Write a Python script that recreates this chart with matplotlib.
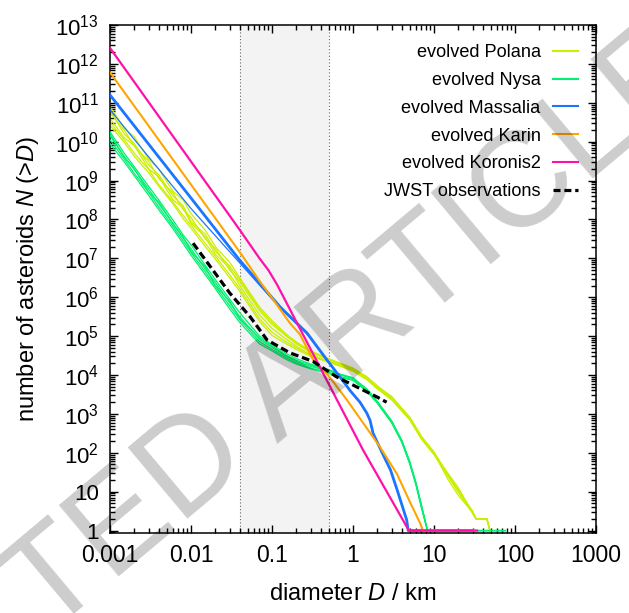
import numpy as np
import matplotlib.pyplot as plt
from matplotlib.lines import Line2D
from matplotlib.ticker import LogLocator, NullFormatter

plt.rcParams['font.family'] = ['Liberation Sans', 'DejaVu Sans']
plt.rcParams['mathtext.fontset'] = 'custom'
plt.rcParams['mathtext.rm'] = 'Liberation Sans'
plt.rcParams['mathtext.it'] = 'Liberation Sans:italic'

# --- data: diameters (km) and log10 N(>D) ---
polana_D = [0.001, 0.0015, 0.002, 0.003, 0.004, 0.006, 0.008, 0.01, 0.015, 0.02, 0.03, 0.04,
            0.07, 0.1, 0.15, 0.2, 0.3, 0.5, 0.7, 1, 1.5, 2, 3, 5, 7, 10, 15, 20, 25, 30, 33, 45, 49]
polana_runs = [
    [10.90, 10.35, 10.12, 9.55, 9.30, 8.72, 8.50, 8.15, 7.72, 7.30, 6.90, 6.50,
     5.75, 5.40, 5.05, 4.85, 4.62, 4.42, 4.30, 4.18, 3.95, 3.72, 3.42, 2.92, 2.42, 2.02, 1.42, 1.02, 0.72, 0.48, 0.30, 0.30, 0],
    [10.75, 10.30, 9.88, 9.50, 9.05, 8.68, 8.25, 8.05, 7.50, 7.25, 6.70, 6.40,
     5.65, 5.30, 5.00, 4.80, 4.58, 4.40, 4.28, 4.15, 3.92, 3.70, 3.45, 2.90, 2.40, 2.00, 1.40, 1.00, 0.70, 0.45, 0.30, 0.30, 0],
    [10.60, 10.10, 9.90, 9.30, 9.10, 8.50, 8.30, 7.90, 7.55, 7.10, 6.75, 6.30,
     5.55, 5.20, 4.92, 4.74, 4.52, 4.36, 4.26, 4.14, 3.90, 3.68, 3.40, 2.88, 2.38, 1.98, 1.30, 0.90, 0.66, 0.48, 0.30, 0.30, 0],
    [10.50, 10.05, 9.70, 9.28, 8.90, 8.45, 8.10, 7.85, 7.38, 7.05, 6.58, 6.22,
     5.45, 5.10, 4.85, 4.70, 4.50, 4.34, 4.24, 4.12, 3.88, 3.66, 3.38, 2.86, 2.36, 1.96, 1.38, 0.98, 0.68, 0.45, 0.30, 0.30, 0],
    [10.42, 9.98, 9.62, 9.20, 8.85, 8.40, 8.02, 7.78, 7.30, 6.98, 6.50, 6.15,
     5.38, 5.02, 4.80, 4.66, 4.48, 4.33, 4.22, 4.10, 3.87, 3.64, 3.36, 2.85, 2.35, 1.95, 1.46, 1.10, 0.74, 0.44, 0.30, 0.30, 0],
    [10.80, 10.20, 9.95, 9.40, 9.15, 8.60, 8.35, 7.95, 7.62, 7.18, 6.80, 6.45,
     5.70, 5.35, 5.02, 4.82, 4.60, 4.41, 4.29, 4.16, 3.93, 3.71, 3.44, 2.91, 2.41, 2.01, 1.44, 1.04, 0.74, 0.50, 0.30, 0.30, 0],
]

nysa_D = [0.001, 0.0015, 0.002, 0.003, 0.004, 0.006, 0.008, 0.01, 0.015, 0.02, 0.03, 0.04,
          0.07, 0.1, 0.15, 0.2, 0.3, 0.5, 0.7, 1, 1.5, 2, 3, 4, 5, 6, 7, 8.3, 75]
nysa_runs = [
    [10.25, 9.70, 9.35, 8.85, 8.50, 7.98, 7.60, 7.35, 6.82, 6.45, 5.95, 5.60,
     5.00, 4.78, 4.55, 4.42, 4.28, 4.14, 4.02, 3.93, 3.62, 3.32, 2.82, 2.32, 1.78, 1.22, 0.65, 0, 0],
    [10.15, 9.62, 9.28, 8.78, 8.40, 7.90, 7.52, 7.25, 6.72, 6.38, 5.86, 5.50,
     4.92, 4.72, 4.48, 4.35, 4.22, 4.10, 4.00, 3.91, 3.61, 3.30, 2.80, 2.30, 1.76, 1.20, 0.62, 0, 0],
    [10.05, 9.55, 9.18, 8.70, 8.32, 7.82, 7.45, 7.15, 6.65, 6.28, 5.78, 5.42,
     4.86, 4.66, 4.44, 4.31, 4.18, 4.06, 3.96, 3.88, 3.58, 3.28, 2.78, 2.28, 1.74, 1.18, 0.60, 0, 0],
    [9.95, 9.48, 9.12, 8.62, 8.25, 7.76, 7.38, 7.08, 6.58, 6.22, 5.70, 5.35,
     4.80, 4.62, 4.40, 4.28, 4.16, 4.04, 3.94, 3.86, 3.57, 3.27, 2.77, 2.27, 1.72, 1.16, 0.58, 0, 0],
    [10.20, 9.60, 9.30, 8.70, 8.45, 7.88, 7.55, 7.18, 6.78, 6.30, 5.90, 5.45,
     4.95, 4.75, 4.50, 4.38, 4.25, 4.12, 4.01, 3.92, 3.63, 3.31, 2.81, 2.31, 1.77, 1.21, 0.64, 0, 0],
]

massalia_D = [0.001, 0.01, 0.04, 0.126, 0.27, 0.48, 0.69, 0.92, 1.22, 1.48, 1.62, 1.77,
              2.35, 2.9, 3.5, 4.6, 4.8, 30]
massalia_main = [11.2, 8.55, 6.95, 5.75, 5.08, 4.38, 3.95, 3.60, 3.30, 3.02, 2.84, 2.50,
                 1.95, 1.56, 1.05, 0.27, 0, 0]
massalia_alt = [10.82, 8.28, 6.88, 5.72, 5.06, 4.36, 3.94, 3.59, 3.29, 3.01, 2.83, 2.49,
                1.94, 1.55, 1.04, 0.26, 0, 0]

karin_D = [0.001, 0.04, 0.07, 0.1, 0.167, 0.22, 0.32, 0.5, 0.84, 1.33, 2.15, 3.5, 5.0, 6.7, 7.3, 30]
karin = [11.78, 7.16, 6.42, 5.98, 5.33, 5.05, 4.40, 3.98, 3.36, 2.77, 2.15, 1.45, 0.75, 0.20, 0, 0]

koronis_D = [0.001, 0.04, 0.07, 0.09, 0.115, 1.33, 4.9, 34]
koronis = [12.41, 7.73, 7.00, 6.70, 6.33, 2.07, 0, 0]

jwst_D = [0.0106, 0.013, 0.03, 0.054, 0.087, 0.166, 0.32, 0.63, 1.12, 2.0, 2.6]
jwst = [7.39, 7.14, 6.11, 5.49, 4.90, 4.57, 4.35, 3.95, 3.69, 3.43, 3.30]

xticks = [0.001, 0.01, 0.1, 1, 10, 100, 1000]
xtick_labels = ['0.001', '0.01', '0.1', '1', '10', '100', '1000']
ytick_exp = list(range(14))
ytick_labels = ['1', '10'] + [r'$10^{%d}$' % k for k in ytick_exp[2:]]

c_polana = '#ccee00'
c_nysa = '#00f070'
c_massalia = '#1a75ff'
c_karin = '#ffa500'
c_koronis = '#ff10aa'

fig = plt.figure(figsize=(6.29, 6.13), dpi=100)
ax = fig.add_axes([0.1749, 0.130, 0.7727, 0.8292])

# observed size range
ax.axvspan(0.04, 0.5, color='#f3f3f3', lw=0, zorder=0)
ax.axvline(0.04, color='#666666', ls=(0, (1, 2)), lw=0.8, zorder=1)
ax.axvline(0.5, color='#666666', ls=(0, (1, 2)), lw=0.8, zorder=1)

for run in polana_runs:
    ax.plot(polana_D, np.power(10.0, run), color=c_polana, lw=0.9, zorder=2)
for run in nysa_runs:
    ax.plot(nysa_D, np.power(10.0, run), color=c_nysa, lw=0.9, zorder=3)
ax.plot(massalia_D, np.power(10.0, massalia_alt), color=c_massalia, lw=0.9, zorder=4)
ax.plot(massalia_D, np.power(10.0, massalia_main), color=c_massalia, lw=2.0, zorder=4)
ax.plot(karin_D, np.power(10.0, karin), color=c_karin, lw=1.5, zorder=5)
ax.plot(koronis_D, np.power(10.0, koronis), color=c_koronis, lw=1.6, zorder=6)
ax.plot(jwst_D, np.power(10.0, jwst), color='black', lw=2.3, ls=(0, (2.4, 1.2)), zorder=7)

ax.set_xscale('log')
ax.set_yscale('log')
ax.set_xlim(1e-3, 1e3)
ax.set_ylim(0.85, 1e13)

ax.set_xticks(xticks)
ax.set_xticklabels(xtick_labels)
ax.set_yticks([10.0 ** k for k in ytick_exp])
ax.set_yticklabels(ytick_labels)
ax.xaxis.set_minor_locator(LogLocator(base=10, subs=range(2, 10), numticks=100))
ax.yaxis.set_minor_locator(LogLocator(base=10, subs=range(2, 10), numticks=100))
ax.xaxis.set_minor_formatter(NullFormatter())
ax.yaxis.set_minor_formatter(NullFormatter())
ax.tick_params(which='both', direction='in', top=True, right=True, width=1.0)
ax.tick_params(which='major', length=6, labelsize=16)
ax.tick_params(axis='x', which='major', labelsize=16.5, pad=7.5)
ax.tick_params(axis='y', which='major', pad=8)
ax.tick_params(which='minor', length=3.5)
for s in ax.spines.values():
    s.set_linewidth(1.1)

ax.set_xlabel(r'diameter $D$ / km', fontsize=17)
ax.set_ylabel(r'number of asteroids $N$ (>$D$)', fontsize=17)
ax.xaxis.set_label_coords(0.5, -0.098)
ax.yaxis.set_label_coords(-0.142, 0.5)

handles = [
    Line2D([], [], color=c_polana, lw=1.5),
    Line2D([], [], color=c_nysa, lw=1.5),
    Line2D([], [], color=c_massalia, lw=1.5),
    Line2D([], [], color=c_karin, lw=1.5),
    Line2D([], [], color=c_koronis, lw=1.5),
    Line2D([], [], color='black', lw=2.3, ls=(0, (2.2, 1.2))),
]
labels = ['evolved Polana', 'evolved Nysa', 'evolved Massalia', 'evolved Karin',
          'evolved Koronis2', 'JWST observations']
ax.legend(handles, labels, loc='upper right', bbox_to_anchor=(0.962, 0.962),
          frameon=False, markerfirst=False, fontsize=13.1, borderpad=0,
          borderaxespad=0, handlelength=1.35, handletextpad=0.68, labelspacing=0.59)

# watermark
fig.text(0.2305, 0.170, 'RETRACTED ARTICLE', rotation=40, rotation_mode='anchor',
         ha='center', va='center', fontsize=97, color='black', alpha=0.2, zorder=20)

fig.savefig('out.png', dpi=100)
